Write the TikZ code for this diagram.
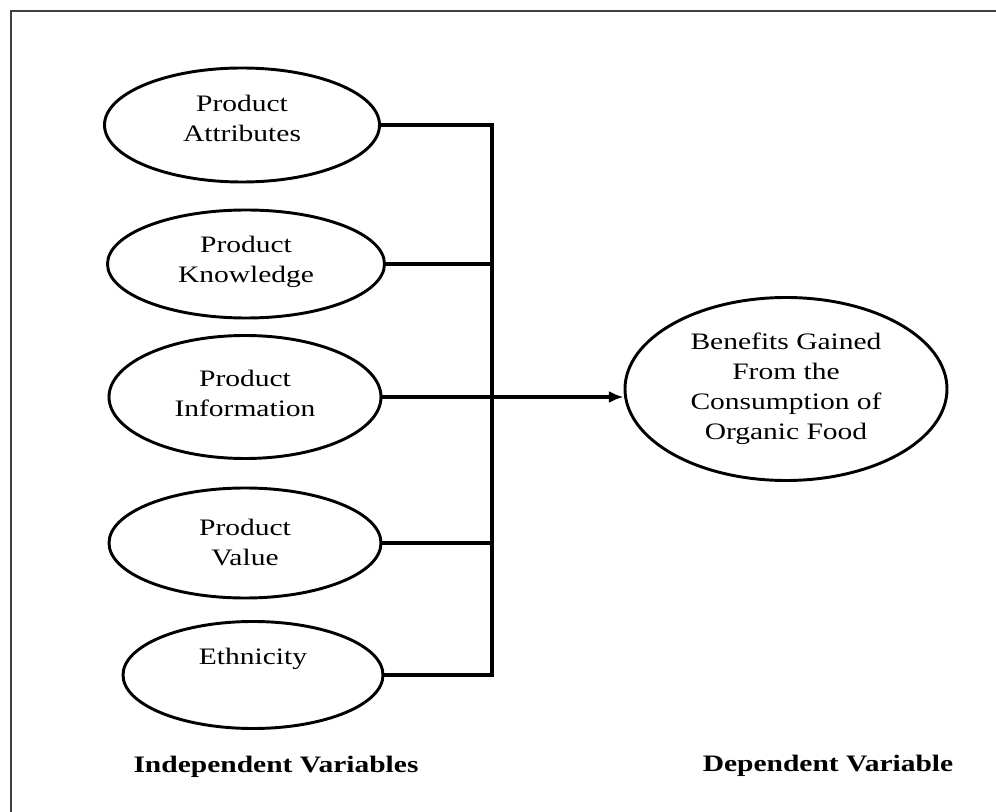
\documentclass[tikz,border=0pt]{standalone}
\usepackage{fontspec}
\setmainfont{Liberation Serif}[FakeStretch=1.25]
\usetikzlibrary{shapes.geometric,arrows.meta}

\begin{document}
\begin{tikzpicture}[x=0.75pt,y=-0.75pt,
  ell/.style={draw, ellipse, line width=2.2pt, inner sep=0pt},
  txt/.style={font=\fontsize{17.7pt}{22.5pt}\selectfont, align=center},
  lnk/.style={line width=2.6pt, line join=miter},
  hdr/.style={font=\fontsize{17.7pt}{22.5pt}\selectfont\bfseries}]
\useasboundingbox (0,0) rectangle (996,812);

% frame (open on the right and bottom)
\draw[line width=2pt, color=black!75] (11,812) -- (11,11) -- (996,11);

% independent variables
\node[ell, minimum width=206.25pt, minimum height=85.5pt,
      label={[txt, yshift=5.25pt]center:Product\\Attributes}] (e1) at (242,125) {};
\node[ell, minimum width=207.75pt, minimum height=81pt,
      label={[txt, yshift=1.5pt]center:Product\\Knowledge}] (e2) at (246,264) {};
\node[ell, minimum width=204pt, minimum height=92.25pt,
      label={[txt, yshift=3pt]center:Product\\Information}] (e3) at (245,397) {};
\node[ell, minimum width=204pt, minimum height=82.5pt,
      label={[txt, yshift=0.75pt]center:Product\\Value}] (e4) at (245,543) {};
\node[ell, minimum width=195pt, minimum height=80.25pt,
      label={[txt, yshift=12pt]center:Ethnicity}] (e5) at (253,675) {};

% dependent variable
\node[ell, minimum width=241.5pt, minimum height=137.25pt,
      label={[txt]center:Benefits Gained\\From the\\Consumption of\\Organic Food}] (dv) at (786,389) {};

% collecting bus
\coordinate (bustop) at (492,125);
\coordinate (busbot) at (492,675);
\draw[lnk] (e1.east) -- (bustop) -- (busbot) -- (e5.east);
\draw[lnk] (e2.east) -- (e2.east -| bustop);
\draw[lnk] (e4.east) -- (e4.east -| bustop);
\draw[lnk, -{Latex[length=11pt, width=9pt]}] (e3.east) -- (e3.east -| dv.west);

% column captions
\node[hdr] (indep) at (276,767) {Independent Variables};
\node[hdr] (dep) at (828,766) {Dependent Variable};
\end{tikzpicture}
\end{document}
